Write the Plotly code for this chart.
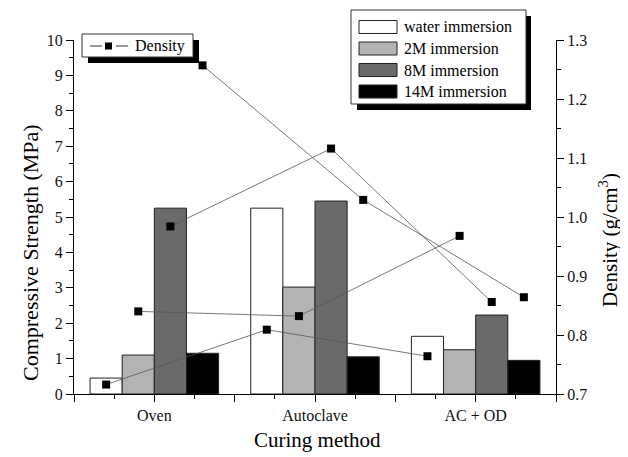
import plotly.graph_objects as go

# ---------------- data ----------------
categories = ["Oven", "Autoclave", "AC + OD"]
series_names = ["water immersion", "2M immersion", "8M immersion", "14M immersion"]
strength_water = [0.45, 5.25, 1.63]
strength_2m = [1.10, 3.02, 1.25]
strength_8m = [5.25, 5.45, 2.23]
strength_14m = [1.15, 1.05, 0.95]
density_water = [0.716, 0.809, 0.764]
density_2m = [0.840, 0.832, 0.968]
density_8m = [0.984, 1.116, 0.856]
density_14m = [1.257, 1.029, 0.864]
strength_ticks = list(range(0, 11))
density_ticks = [0.7, 0.8, 0.9, 1.0, 1.1, 1.2, 1.3]

strengths = [strength_water, strength_2m, strength_8m, strength_14m]
densities = [density_water, density_2m, density_8m, density_14m]

# ---------------- styling / layout ----------------
OFF = 8                      # default page body margin
W, H = 628 - OFF, 457 - OFF
L, R, T, B = 74, 556, 40, 394   # plot area, in window pixels
FONT = "Liberation Serif"
bar_colors = ["#ffffff", "#b3b3b3", "#6a6a6a", "#000000"]
n_series = len(series_names)
group_width = 0.8
bar_w = group_width / n_series


def px(x):
    return (x - L) / (R - L)


def py(y):
    return (B - y) / (B - T)


xpos = list(range(len(categories)))
fig = go.Figure()

for k, (name, vals) in enumerate(zip(series_names, strengths)):
    fig.add_trace(go.Bar(
        x=xpos, y=vals, name=name,
        marker=dict(color=bar_colors[k], line=dict(color="#222222", width=1)),
        showlegend=False, yaxis="y",
    ))

for k, vals in enumerate(densities):
    off = (k - (n_series - 1) / 2) * bar_w
    fig.add_trace(go.Scatter(
        x=[i + off for i in xpos], y=vals, yaxis="y2",
        mode="lines+markers", name="Density",
        line=dict(color="#555555", width=0.8),
        marker=dict(symbol="square", size=8, color="#000000"),
        showlegend=False,
    ))

# x ticks: major every half category, labels at categories
tickvals = []
ticktext = []
for i, c in enumerate(categories):
    tickvals += [i - 0.5, i]
    ticktext += ["", c]
tickvals.append(len(categories) - 0.5)
ticktext.append("")

shapes = []
annotations = []


def rect(x0, y0, x1, y1, fill, line_color=None):
    shapes.append(dict(type="rect", xref="paper", yref="paper",
                       x0=px(x0), x1=px(x1), y0=py(y0), y1=py(y1),
                       fillcolor=fill,
                       line=dict(color=line_color, width=1) if line_color else dict(width=0),
                       layer="above"))


# bar legend (wide swatches)
rect(357, 16, 531, 110, "#000000")
rect(351, 10, 526, 104, "#ffffff", "#333333")
row_y = [27, 48.5, 70, 91.5]
for k, name in enumerate(series_names):
    rect(359, row_y[k] - 6.5, 397, row_y[k] + 6.5, bar_colors[k], "#222222")
    annotations.append(dict(xref="paper", yref="paper", x=px(402), y=py(row_y[k]),
                            text=name, showarrow=False, xanchor="left", yanchor="middle",
                            font=dict(family=FONT, size=16, color="#000000")))

# density legend
rect(88, 40, 199, 63, "#000000")
rect(82, 34, 193, 57, "#ffffff", "#333333")
ly = 46
for xa, xb in [(90, 102), (116, 128)]:
    shapes.append(dict(type="line", xref="paper", yref="paper",
                       x0=px(xa), x1=px(xb), y0=py(ly), y1=py(ly),
                       line=dict(color="#333333", width=1), layer="above"))
rect(105, ly - 3.5, 112, ly + 3.5, "#000000")
annotations.append(dict(xref="paper", yref="paper", x=px(133), y=py(ly),
                        text="Density", showarrow=False, xanchor="left", yanchor="middle",
                        font=dict(family=FONT, size=16, color="#000000")))

# axis titles
annotations.append(dict(xref="paper", yref="paper", x=px(31), y=py(253),
                        xanchor="center", yanchor="middle",
                        text="Compressive Strength (MPa)", textangle=-90, showarrow=False,
                        font=dict(family=FONT, size=22, color="#000000")))
annotations.append(dict(xref="paper", yref="paper", x=px(608), y=py(240),
                        xanchor="center", yanchor="middle",
                        text="Density (g/cm<sup>3</sup>)", textangle=-90, showarrow=False,
                        font=dict(family=FONT, size=21, color="#000000")))
annotations.append(dict(xref="paper", yref="paper", x=px(317), y=py(440),
                        xanchor="center", yanchor="middle",
                        text="Curing method", showarrow=False,
                        font=dict(family=FONT, size=21, color="#000000")))

axis_common = dict(showline=True, linecolor="#000000", linewidth=1, showgrid=False,
                   zeroline=False, ticks="outside", ticklen=7, tickcolor="#000000",
                   tickfont=dict(family=FONT, size=16, color="#111111"))

fig.update_layout(
    width=W, height=H,
    margin=dict(l=L - OFF, r=W - (R - OFF), t=T - OFF, b=H - (B - OFF), autoexpand=False),
    paper_bgcolor="#ffffff", plot_bgcolor="#ffffff",
    barmode="group", bargap=1 - group_width, bargroupgap=0,
    showlegend=False,
    xaxis=dict(range=[-0.5, len(categories) - 0.5], tickmode="array",
               tickvals=tickvals, ticktext=ticktext,
               minor=dict(dtick=0.25, tick0=-0.5, ticks="outside", ticklen=4, tickcolor="#000000"),
               **axis_common),
    yaxis=dict(range=[0, 10], tickvals=strength_ticks,
               minor=dict(dtick=0.5, ticks="outside", ticklen=4, tickcolor="#000000"),
               **axis_common),
    yaxis2=dict(range=[0.7, 1.3], overlaying="y", side="right", tickvals=density_ticks,
                tickformat=".1f",
                minor=dict(dtick=0.05, tick0=0.7, ticks="outside", ticklen=4, tickcolor="#000000"),
                **axis_common),
    shapes=shapes, annotations=annotations,
    font=dict(family=FONT),
)

fig.write_html("out.html")
